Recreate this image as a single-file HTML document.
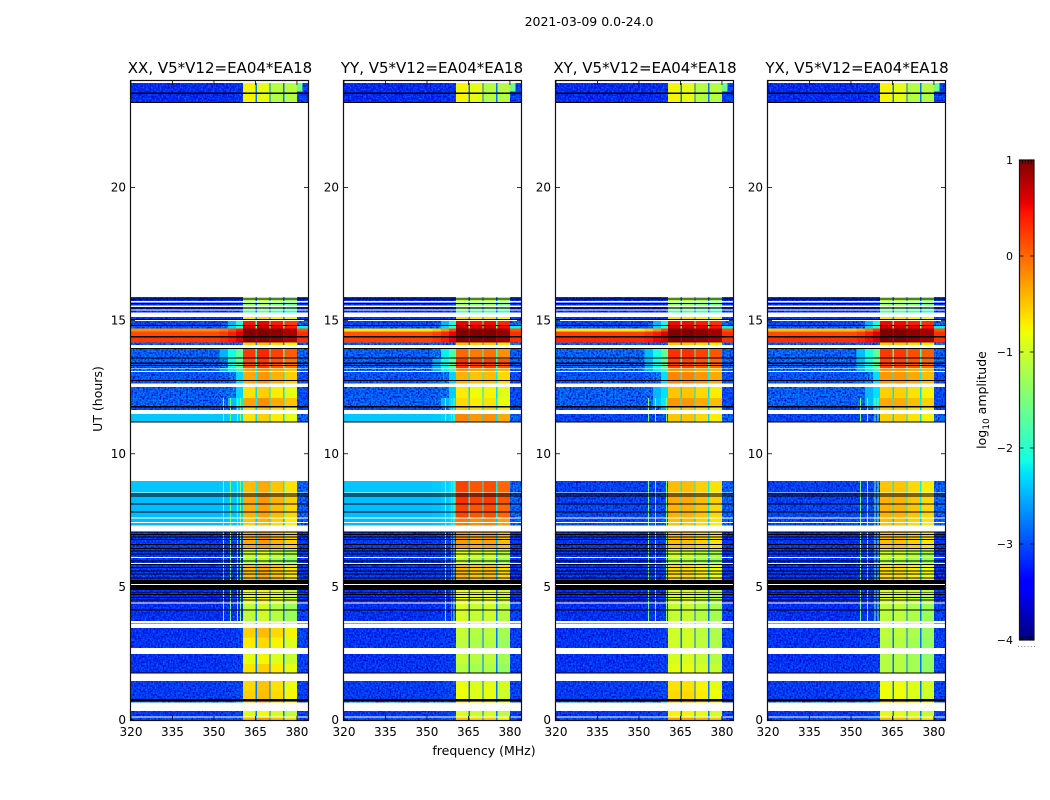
<!DOCTYPE html>
<html lang="en">
<head>
<meta charset="utf-8">
<title>2021-03-09 amplitude waterfall</title>
<style>
html,body{margin:0;padding:0;background:#fff;width:1050px;height:800px;overflow:hidden}
svg{display:block}
text{font-family:"DejaVu Sans","Liberation Sans",sans-serif;fill:#000}
.title{font-size:15px;text-anchor:middle}
.tick{font-size:12px}
.label{font-size:12.5px;text-anchor:middle}
</style>
</head>
<body>
<svg id="chart" width="1050" height="800" viewBox="0 0 1050 800" xmlns="http://www.w3.org/2000/svg">
  <defs>
    <filter id="speckle" filterUnits="userSpaceOnUse" x="120" y="70" width="840" height="660" color-interpolation-filters="sRGB">
      <feTurbulence type="fractalNoise" baseFrequency="0.6 0.55" numOctaves="1" seed="3" result="n"/>
      <feColorMatrix in="n" type="matrix" values="0 0 0 0 0  0 0 0 0 0.45  0 0 0 0 1  2.4 0 0 0 -1" result="light"/>
      <feColorMatrix in="n" type="matrix" values="0 0 0 0 0  0 0 0 0 0  0 0 0 0 0.8  0 2.8 0 0 -1" result="dark"/>
      <feComposite in="light" in2="SourceAlpha" operator="in" result="l"/>
      <feComposite in="dark" in2="SourceAlpha" operator="in" result="d"/>
      <feMerge><feMergeNode in="SourceGraphic"/><feMergeNode in="d"/><feMergeNode in="l"/></feMerge>
    </filter>
  </defs>
  <rect width="1050" height="800" fill="#fff"/>
  <text x="589" y="26" font-size="12.5" text-anchor="middle">2021-03-09 0.0-24.0</text>

  <g id="panel-xx"></g>
  <g id="panel-yy"></g>
  <g id="panel-xy"></g>
  <g id="panel-yx"></g>

  <text class="title" x="220" y="73">XX, V5*V12=EA04*EA18</text>
  <text class="title" x="432" y="73">YY, V5*V12=EA04*EA18</text>
  <text class="title" x="645" y="73">XY, V5*V12=EA04*EA18</text>
  <text class="title" x="857" y="73">YX, V5*V12=EA04*EA18</text>

  <text class="label" transform="translate(102 399) rotate(-90)">UT (hours)</text>
  <text class="label" x="484" y="755">frequency (MHz)</text>
  <text class="label" transform="translate(986 400) rotate(-90)">log<tspan font-size="9" dy="3">10</tspan><tspan dy="-3"> amplitude</tspan></text>

  <g id="colorbar"></g>
</svg>

<script>
// ---- UT extent of each recorded block (hours) ----
const utStart = [0,.14,.65,.78,1.10,1.74,2.10,2.70,3.10,3.62,3.72,4.41,5.11,5.89,6.12,6.45,7.30,7.44,7.61,8.10,8.55,11.20,11.65,11.79,12.10,12.63,13.11,13.23,13.55,14.08,14.18,14.43,14.60,14.71,14.82,15.06,15.31,15.42,15.56,15.74,23.21,23.56];
const utEnd = [.10,.33,.78,1.10,1.46,2.10,2.48,3.10,3.46,3.65,4.37,5.07,5.85,6.08,6.45,7.07,7.40,7.57,8.10,8.53,8.98,11.49,11.73,12.10,12.51,13.07,13.21,13.55,13.93,14.18,14.43,14.60,14.71,14.80,14.99,15.13,15.38,15.52,15.69,15.88,23.56,23.92];

// ---- log10 amplitude below 352 MHz, per block, per correlation ----
const lowXX = [-2.9,-3.1,-2.6,-3.05,-3.05,-3.1,-3.15,-3.1,-3.15,-3,-3.15,-3.2,-3.05,-3.05,-3.05,-3.05,-2.45,-2.45,-2.45,-2.45,-2.4,-2.4,-2.9,-2.7,-2.75,-2.8,-2.6,-2.7,-2.7,-2.7,.25,.15,-.2,-2.8,-2.95,-3.1,-3.2,-3.2,-3.2,-3.2,-3.2,-3.2];
const lowYY = [-2.9,-3.1,-2.6,-3.05,-3.05,-3.1,-3.15,-3.1,-3.15,-3,-3.15,-3.2,-3.05,-3.05,-3.05,-3.05,-2.45,-2.45,-2.45,-2.45,-2.4,-2.4,-2.9,-2.7,-2.75,-2.8,-2.6,-2.7,-2.7,-2.7,.2,.1,-.7,-2.8,-2.95,-3.1,-3.2,-3.2,-3.2,-3.2,-3.2,-3.2];
const lowXY = [-2.9,-3.1,-2.6,-3.05,-3.05,-3.1,-3.15,-3.1,-3.15,-3,-3.15,-3.2,-3.1,-3.1,-3.1,-3.1,-2.9,-2.9,-2.95,-3,-3,-2.95,-2.95,-2.7,-2.7,-2.8,-2.6,-2.65,-2.65,-2.7,.35,.2,-.7,-2.8,-2.95,-3.1,-3.2,-3.2,-3.2,-3.2,-3.2,-3.2];
const lowYX = [-2.9,-3.1,-2.6,-3.05,-3.05,-3.1,-3.15,-3.1,-3.15,-3,-3.15,-3.2,-3.1,-3.1,-3.1,-3.1,-2.9,-2.9,-2.95,-3,-3,-2.95,-2.95,-2.7,-2.7,-2.8,-2.6,-2.65,-2.65,-2.7,.3,.15,-.5,-2.8,-2.95,-3.1,-3.2,-3.2,-3.2,-3.2,-3.2,-3.2];

// ---- log10 amplitude inside the 360-380 MHz windows, per block, per correlation ----
const highXX = [-.4,-.9,-.5,-.55,-.6,-.65,-.85,-.7,-.55,-1.2,-1.1,-.85,-.45,-1.2,-1,-.35,-.55,-.5,-.4,-.35,-.45,-.65,-.6,-.3,-.65,-.35,-.3,.15,.25,-.6,1,1,1,.6,.45,-.7,-1.8,-1.5,-1.4,-1.2,-.85,-.85];
const highYY = [-.6,-1,-.7,-.9,-.9,-1.25,-1.15,-1.2,-1.15,-1.2,-1.05,-.9,-.5,-1.2,-1,-.35,-.2,-.2,.1,.2,.1,-.25,-.6,-.7,-.8,-.5,-.3,.2,-.1,-.6,1,1,1,.6,.45,-.7,-1.8,-1.5,-1.4,-1.2,-.9,-.9];
const highXY = [-.35,-.8,-.5,-.65,-.7,-.9,-1,-1.05,-1.05,-1.2,-1.1,-1,-.65,-1.2,-1.05,-.5,-.55,-.5,-.45,-.4,-.5,-.55,-.6,-.3,-.55,-.2,-.3,.15,.25,-.6,1,1,1,.6,.45,-.7,-1.8,-1.5,-1.4,-1.2,-.85,-.85];
const highYX = [-.5,-.9,-.6,-.85,-.85,-1.2,-1.2,-1.2,-1.15,-1.2,-1.15,-1,-.65,-1.2,-1.05,-.5,-.55,-.5,-.45,-.45,-.55,-.6,-.6,-.4,-.6,-.3,-.3,.15,.2,-.6,1,1,1,.6,.45,-.7,-1.8,-1.5,-1.4,-1.2,-.85,-.85];

// ---- how far the 352-360 MHz skirt rises toward the window level, per block ----
const skirtRise = [.05,.05,.05,.05,.05,.05,.05,.05,.05,.05,.05,.05,.05,.05,.05,.05,.05,.05,.05,.05,.05,.05,.2,.2,.2,.2,.35,.35,.35,.05,.5,.5,.5,.25,.25,.03,.03,.03,.03,.03,.03,.03];

// ---- level of the notches between windows and of the band edge above 380 MHz ----
const notchLevel = [-2.7,-2.8,-2.7,-2.8,-2.8,-2.8,-2.8,-2.8,-2.8,-2.9,-2.8,-2.8,-2.5,-2.8,-2.5,-2.5,-2.4,-2.4,-2.2,-2.2,-2.2,-2.3,-2.4,-2.2,-2.3,-2.2,-2.2,-1.9,-1.9,-2.7,.8,.8,.8,-1.5,-1.8,-2.6,-2.9,-2.9,-2.9,-2.8,-2.8,-2.8];
const edgeLevel = [-2.9,-3,-2.8,-3,-3,-3,-3,-3,-3,-3,-3,-3.1,-3.1,-3.1,-3.1,-3.1,-2.7,-2.7,-2.7,-2.7,-2.7,-2.7,-2.9,-2.9,-2.9,-2.9,-2.7,-2.7,-2.7,-2.6,.3,.3,.1,-2.2,-2.6,-3,-3.1,-3.1,-3.1,-3.1,-3,-3];

// ---- skirt channels (MHz) and their share of the rise ----
const skirtStart = [352,355,358];
const skirtEnd = [355,358,360.5];
const skirtShare = [.2,.55,1];

// ---- per-window offsets (dex) for each correlation ----
const windowOffsetXX = [0,.1,-.05,-.2];
const windowOffsetYY = [.1,0,.05,-.1];
const windowOffsetXY = [.05,.05,-.05,-.15];
const windowOffsetYX = [.05,.05,-.05,-.15];

// ---- window levels in the late 23 h scan, which differs from the rest ----
const topBlockFirst = 40;
const topWindowLevel = [-.75,-.85,-1.15,-1.15];
const topStepFreq = [380,382];
const topStepUT = [23.6,23.92];
const topStepLevel = -1.6;

// ---- spectral layout (MHz) ----
const windowStart = [360.5,365.5,370.5,375.5];
const windowEnd = [365,370,375,380];
const notchStart = [365,370,375];
const notchEnd = [365.5,370.5,375.5];

// ---- narrow-band interference ----
const rfiFreqXX = [353.2,355.8,358.3,359.4];
const rfiFreqYY = [356.5,358.6,359.6];
const rfiFreqXY = [353.2,355.8,359.8];
const rfiFreqYX = [353.2,355.8,358.5,359.6];
const rfiStart = [3.72,11.2];
const rfiEnd = [8.98,12.1];
const rfiLevel = -1.5;

// ---- flagged (black) time ranges, hours ----
const flagStart = [.70,1.74,4.11,4.49,4.59,4.69,4.78,4.88,5.11,5.31,5.46,5.58,5.71,5.83,5.95,6.21,6.33,6.43,6.58,6.76,6.86,6.95,7.05,7.79,8.09,8.39,8.47,11.17,11.73,12.73,13.30,13.38,13.57,13.93,14.37,14.80,15.03,15.46,15.62,15.80,23.18,23.52];
const flagEnd = [.78,1.78,4.15,4.525,4.625,4.725,4.815,5.07,5.26,5.345,5.495,5.615,5.745,5.865,5.985,6.245,6.365,6.465,6.615,6.795,6.895,6.985,7.085,7.83,8.13,8.43,8.51,11.21,11.79,12.77,13.34,13.43,13.61,13.97,14.43,14.84,15.07,15.50,15.66,15.84,23.22,23.56];

// ---- axis ticks ----
const xTickValues = [320,335,350,365,380];
const yTickValues = [0,5,10,15,20];
const colorTickValues = [1,0,-1,-2,-3,-4];
const colorTickLabels = ['1','0','\u22121','\u22122','\u22123','\u22124'];
const colorEdgeTicks = [.2,.4,.6,.8];

// ---- panel wiring ----
const panelIds = ['panel-xx','panel-yy','panel-xy','panel-yx'];
const panelLows = [lowXX,lowYY,lowXY,lowYX];
const panelHighs = [highXX,highYY,highXY,highYX];
const panelOffsets = [windowOffsetXX,windowOffsetYY,windowOffsetXY,windowOffsetYX];
const panelRfi = [rfiFreqXX,rfiFreqYY,rfiFreqXY,rfiFreqYX];

// ---- layout & scales ----
const layoutLeft = [131,344,556,768];
const layoutWidth = 177;
const layoutTop = 81;
const layoutBottom = 720;
const freqMin = 320, freqMax = 384, utMin = 0, utMax = 24;
const colorMin = -4, colorMax = 1;
const NS = 'http://www.w3.org/2000/svg';

function xScale(left, f){ return left + (f - freqMin) / (freqMax - freqMin) * layoutWidth; }
function yScale(h){ return layoutBottom - (h - utMin) / (utMax - utMin) * (layoutBottom - layoutTop); }

function interp(x, xs, ys){
  for (let i = 1; i < xs.length; i++) {
    if (x <= xs[i]) return ys[i-1] + (x - xs[i-1]) / (xs[i] - xs[i-1]) * (ys[i] - ys[i-1]);
  }
  return ys[ys.length-1];
}
function jet(v){
  const t = Math.max(0, Math.min(1, (v - colorMin) / (colorMax - colorMin)));
  const r = interp(t,[0,.35,.66,.89,1],[0,0,1,1,.5]);
  const g = interp(t,[0,.125,.375,.64,.91,1],[0,0,1,1,0,0]);
  const b = interp(t,[0,.11,.34,.65,1],[.5,1,1,0,0]);
  return 'rgb(' + Math.round(r*255) + ',' + Math.round(g*255) + ',' + Math.round(b*255) + ')';
}

function svgEl(tag, parent){
  const el = document.createElementNS(NS, tag);
  parent.appendChild(el);
  return el;
}
function cell(parent, left, f0, f1, h0, h1, value){
  const r = svgEl('rect', parent);
  
  
  const x0 = xScale(left, f0), x1 = xScale(left, f1), y0 = yScale(h1), y1 = yScale(h0);
  r.setAttribute('x', x0.toFixed(2));
  r.setAttribute('y', y0.toFixed(2));
  r.setAttribute('width', (x1 - x0).toFixed(2));
  r.setAttribute('height', (y1 - y0).toFixed(2));
  r.setAttribute('fill', jet(value));
  r.setAttribute('shape-rendering', 'crispEdges');
  return r;
}

panelIds.forEach(function(id, p){
  const panel = document.getElementById(id);
  const left = layoutLeft[p];
  const low = panelLows[p], high = panelHighs[p], off = panelOffsets[p];

  const noisy = svgEl('g', panel);
  
  
  noisy.setAttribute('filter', 'url(#speckle)');
  const quiet = svgEl('g', panel);
  
  

  utStart.forEach(function(h0, b){
    const h1 = utEnd[b];
    const lo = low[b], hi = high[b], rise = skirtRise[b];
    const base = lo < -2.5 ? noisy : quiet;
    cell(base, left, 320, 352, h0, h1, lo);
    skirtStart.forEach(function(f0, k){
      const level = lo + skirtShare[k] * rise * (hi - lo);
      cell(level < -2.5 ? noisy : quiet, left, f0, skirtEnd[k], h0, h1, level);
    });
    windowStart.forEach(function(f0, k){
      const level = b >= topBlockFirst ? topWindowLevel[k] : hi + off[k];
      cell(quiet, left, f0, windowEnd[k], h0, h1, level);
    });
    notchStart.forEach(function(f0, k){
      cell(quiet, left, f0, notchEnd[k], h0, h1, notchLevel[b]);
    });
    cell(edgeLevel[b] < -2.5 ? noisy : quiet, left, 380, 384, h0, h1, edgeLevel[b]);

    rfiStart.forEach(function(s, k){
      const a = Math.max(s, h0), z = Math.min(rfiEnd[k], h1);
      if (z > a) {
        panelRfi[p].forEach(function(f){
          cell(quiet, left, f, f + 0.35, a, z, rfiLevel);
        });
      }
    });
  });
  cell(quiet, left, topStepFreq[0], topStepFreq[1], topStepUT[0], topStepUT[1], topStepLevel);

  flagStart.forEach(function(h0, k){
    const r = svgEl('rect', panel);
    
    
    r.setAttribute('x', left);
    r.setAttribute('y', yScale(flagEnd[k]).toFixed(2));
    r.setAttribute('width', layoutWidth);
    r.setAttribute('height', (yScale(h0) - yScale(flagEnd[k])).toFixed(2));
    r.setAttribute('fill', '#000');
    r.setAttribute('shape-rendering', 'crispEdges');
  });

  const frame = svgEl('rect', panel);
  
  
  frame.setAttribute('x', left - 0.5);
  frame.setAttribute('y', layoutTop - 0.5);
  frame.setAttribute('width', layoutWidth + 1);
  frame.setAttribute('height', layoutBottom - layoutTop + 1);
  frame.setAttribute('fill', 'none');
  frame.setAttribute('stroke', '#111');
  frame.setAttribute('stroke-width', '1.2');

  xTickValues.forEach(function(f, k){
    const x = xScale(left, f);
    const tb = svgEl('line', panel);
    
    
    tb.setAttribute('x1', x); tb.setAttribute('x2', x);
    tb.setAttribute('y1', layoutBottom); tb.setAttribute('y2', layoutBottom - 4);
    tb.setAttribute('stroke', '#000'); tb.setAttribute('stroke-width', '0.8');
    const tt = svgEl('line', panel);
    
    
    tt.setAttribute('x1', x); tt.setAttribute('x2', x);
    tt.setAttribute('y1', layoutTop); tt.setAttribute('y2', layoutTop + 4);
    tt.setAttribute('stroke', '#000'); tt.setAttribute('stroke-width', '0.8');
    const lab = svgEl('text', panel);
    
    
    lab.setAttribute('class', 'tick');
    lab.setAttribute('x', x);
    lab.setAttribute('y', 736);
    lab.setAttribute('text-anchor', 'middle');
    lab.textContent = String(xTickValues[k]);
  });

  yTickValues.forEach(function(h, k){
    const y = yScale(h);
    const tl = svgEl('line', panel);
    
    
    tl.setAttribute('x1', left); tl.setAttribute('x2', left + 4);
    tl.setAttribute('y1', y); tl.setAttribute('y2', y);
    tl.setAttribute('stroke', '#000'); tl.setAttribute('stroke-width', '0.8');
    const tr = svgEl('line', panel);
    
    
    tr.setAttribute('x1', left + layoutWidth); tr.setAttribute('x2', left + layoutWidth - 4);
    tr.setAttribute('y1', y); tr.setAttribute('y2', y);
    tr.setAttribute('stroke', '#000'); tr.setAttribute('stroke-width', '0.8');
    const lab = svgEl('text', panel);
    
    
    lab.setAttribute('class', 'tick');
    lab.setAttribute('x', left - 5);
    lab.setAttribute('y', y + 4);
    lab.setAttribute('text-anchor', 'end');
    lab.textContent = String(yTickValues[k]);
  });
});

// ---- colour bar ----
(function(){
  const bar = document.getElementById('colorbar');
  const cbLeft = 1019.5, cbWidth = 14.5, cbTop = 160, cbBottom = 640;
  function cScale(v){ return cbBottom - (v - colorMin) / (colorMax - colorMin) * (cbBottom - cbTop); }
  for (let y = cbTop; y < cbBottom; y++) {
    const r = svgEl('rect', bar);
    
    
    r.setAttribute('x', cbLeft);
    r.setAttribute('y', y);
    r.setAttribute('width', cbWidth);
    r.setAttribute('height', 1);
    r.setAttribute('fill', jet(colorMax - (y + 0.5 - cbTop) / (cbBottom - cbTop) * (colorMax - colorMin)));
    r.setAttribute('shape-rendering', 'crispEdges');
  }
  const frame = svgEl('rect', bar);
  
  
  frame.setAttribute('x', cbLeft);
  frame.setAttribute('y', cbTop);
  frame.setAttribute('width', cbWidth);
  frame.setAttribute('height', cbBottom - cbTop);
  frame.setAttribute('fill', 'none');
  frame.setAttribute('stroke', '#111');
  frame.setAttribute('stroke-width', '1.2');
  colorTickValues.forEach(function(v, k){
    const y = cScale(v);
    const a = svgEl('line', bar);
    
    
    a.setAttribute('x1', cbLeft); a.setAttribute('x2', cbLeft + 4);
    a.setAttribute('y1', y); a.setAttribute('y2', y);
    a.setAttribute('stroke', '#000'); a.setAttribute('stroke-width', '0.8');
    const b = svgEl('line', bar);
    
    
    b.setAttribute('x1', cbLeft + cbWidth); b.setAttribute('x2', cbLeft + cbWidth - 4);
    b.setAttribute('y1', y); b.setAttribute('y2', y);
    b.setAttribute('stroke', '#000'); b.setAttribute('stroke-width', '0.8');
    const lab = svgEl('text', bar);
    
    
    lab.setAttribute('x', 1013);
    lab.setAttribute('y', y + 4);
    lab.setAttribute('font-size', '11');
    lab.setAttribute('text-anchor', 'end');
    lab.textContent = colorTickLabels[k];
  });
  colorEdgeTicks.forEach(function(frac){
    const x = cbLeft + frac * cbWidth;
    const top = svgEl('line', bar);
    
    
    top.setAttribute('x1', x); top.setAttribute('x2', x);
    top.setAttribute('y1', cbTop); top.setAttribute('y2', cbTop + 4);
    top.setAttribute('stroke', '#000'); top.setAttribute('stroke-width', '0.8');
    const bot = svgEl('line', bar);
    
    
    bot.setAttribute('x1', x); bot.setAttribute('x2', x);
    bot.setAttribute('y1', cbBottom); bot.setAttribute('y2', cbBottom - 4);
    bot.setAttribute('stroke', '#000'); bot.setAttribute('stroke-width', '0.8');
  });
  for (let i = 0; i < 6; i++) {
    const dot = svgEl('rect', bar);
    
    
    dot.setAttribute('x', cbLeft - 1.5 + i * 3.2);
    dot.setAttribute('y', 646);
    dot.setAttribute('width', 1);
    dot.setAttribute('height', 1);
    dot.setAttribute('fill', '#888');
  }
})();
</script>
</body>
</html>
